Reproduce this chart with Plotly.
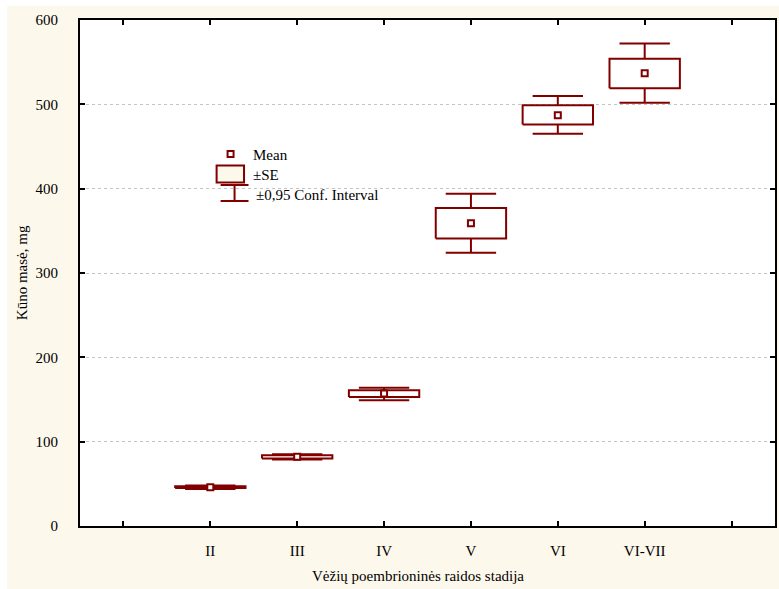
import plotly.graph_objects as go

# Body mass by post-embryonic development stage
stages = ["II", "III", "IV", "V", "VI", "VI-VII"]
mean_mass = [46, 82, 157, 359, 487, 537]
se_low = [45, 80, 153, 341, 476, 519]
se_high = [47, 84, 161, 377, 499, 554]
ci_low = [44, 79, 149, 324, 465, 502]
ci_high = [48, 85, 164, 394, 510, 572]

x_tick_labels = ["", "II", "III", "IV", "V", "VI", "VI-VII", ""]
y_tick_values = [0, 100, 200, 300, 400, 500, 600]

DARK_RED = "#800000"
CREAM = "#FDF8EC"
FONT = "Liberation Serif"

W, H = 779, 589
L, T, R, B = 80, 20, 2, 63
PW, PH = W - L - R, H - T - B

BOX_HALF = 0.405
CAP_HALF = 0.29

xs = list(range(1, len(stages) + 1))

# whiskers: stems from box edge to CI limits, with caps
wx, wy = [], []
for x, lo, sl, sh, hi in zip(xs, ci_low, se_low, se_high, ci_high):
    wx += [x, x, None, x - CAP_HALF, x + CAP_HALF, None,
           x, x, None, x - CAP_HALF, x + CAP_HALF, None]
    wy += [sh, hi, None, hi, hi, None,
           sl, lo, None, lo, lo, None]

# ±SE boxes
bx, by = [], []
for x, sl, sh in zip(xs, se_low, se_high):
    bx += [x - BOX_HALF, x + BOX_HALF, x + BOX_HALF, x - BOX_HALF, x - BOX_HALF, None]
    by += [sl, sl, sh, sh, sl, None]

fig = go.Figure()
fig.add_trace(go.Scatter(x=wx, y=wy, mode="lines",
                         line=dict(color=DARK_RED, width=2),
                         hoverinfo="skip", showlegend=False))
fig.add_trace(go.Scatter(x=bx, y=by, mode="lines",
                         line=dict(color=DARK_RED, width=2),
                         hoverinfo="skip", showlegend=False))
fig.add_trace(go.Scatter(x=xs, y=mean_mass, mode="markers",
                         marker=dict(symbol="square", size=6, color="white",
                                     line=dict(color=DARK_RED, width=2)),
                         text=stages, showlegend=False))


def px_x(x):
    return (x - L) / PW


def px_y(y):
    return (T + PH - y) / PH


shapes = [
    # cream page background and white plot area
    dict(type="rect", xref="paper", yref="paper", layer="below",
         x0=px_x(7), x1=px_x(781), y0=px_y(592), y1=px_y(6),
         fillcolor=CREAM, line=dict(width=0)),
    dict(type="rect", xref="paper", yref="paper", layer="below",
         x0=0, x1=1, y0=0, y1=1, fillcolor="white", line=dict(width=0)),
    # key: mean marker
    dict(type="rect", xref="paper", yref="paper",
         x0=px_x(228), x1=px_x(234), y0=px_y(157), y1=px_y(151),
         fillcolor="white", line=dict(color=DARK_RED, width=2)),
    # key: SE box
    dict(type="rect", xref="paper", yref="paper",
         x0=px_x(217), x1=px_x(244.5), y0=px_y(182.5), y1=px_y(165.5),
         fillcolor=CREAM, line=dict(color=DARK_RED, width=2)),
    # key: confidence interval whisker
    dict(type="line", xref="paper", yref="paper",
         x0=px_x(221), x1=px_x(249), y0=px_y(185), y1=px_y(185),
         line=dict(color=DARK_RED, width=2)),
    dict(type="line", xref="paper", yref="paper",
         x0=px_x(235), x1=px_x(235), y0=px_y(185), y1=px_y(201),
         line=dict(color=DARK_RED, width=2)),
    dict(type="line", xref="paper", yref="paper",
         x0=px_x(221), x1=px_x(249), y0=px_y(201), y1=px_y(201),
         line=dict(color=DARK_RED, width=2)),
]

key_font = dict(family=FONT, size=15, color="black")
annotations = [
    dict(text="Mean", x=px_x(251.5), y=px_y(155), xref="paper", yref="paper",
         xanchor="left", yanchor="middle", showarrow=False, font=key_font),
    dict(text="±SE", x=px_x(251.5), y=px_y(175), xref="paper", yref="paper",
         xanchor="left", yanchor="middle", showarrow=False, font=key_font),
    dict(text="±0,95 Conf. Interval", x=px_x(255), y=px_y(195),
         xref="paper", yref="paper", xanchor="left", yanchor="middle",
         showarrow=False, font=key_font),
    dict(text="Kūno masė, mg", x=px_x(22), y=px_y(273), xref="paper", yref="paper",
         xanchor="center", yanchor="middle", textangle=-90, showarrow=False,
         font=key_font),
    dict(text="Vėžių poembrioninės raidos stadija", x=px_x(419), y=px_y(576),
         xref="paper", yref="paper", xanchor="center", yanchor="middle",
         showarrow=False, font=key_font),
]

axis_common = dict(
    showline=True, linecolor="black", linewidth=2, mirror="ticks",
    ticks="inside", ticklen=5, tickwidth=1.5, tickcolor="black",
    tickfont=dict(family=FONT, size=15, color="black"),
    zeroline=False,
)

fig.update_layout(
    width=W, height=H,
    margin=dict(l=L, r=R, t=T, b=B, pad=0),
    paper_bgcolor="white", plot_bgcolor="white",
    showlegend=False,
    shapes=shapes, annotations=annotations,
    xaxis=dict(range=[-0.5, 7.5], tickmode="array",
               tickvals=list(range(len(x_tick_labels))),
               ticktext=x_tick_labels, showgrid=False,
               ticklabelstandoff=10, **axis_common),
    yaxis=dict(range=[0, 600], tickmode="array", tickvals=y_tick_values,
               showgrid=True, gridcolor="#c4c4c4", gridwidth=1, griddash="dot",
               ticklabelstandoff=17, **axis_common),
)

fig.write_html("out.html")
